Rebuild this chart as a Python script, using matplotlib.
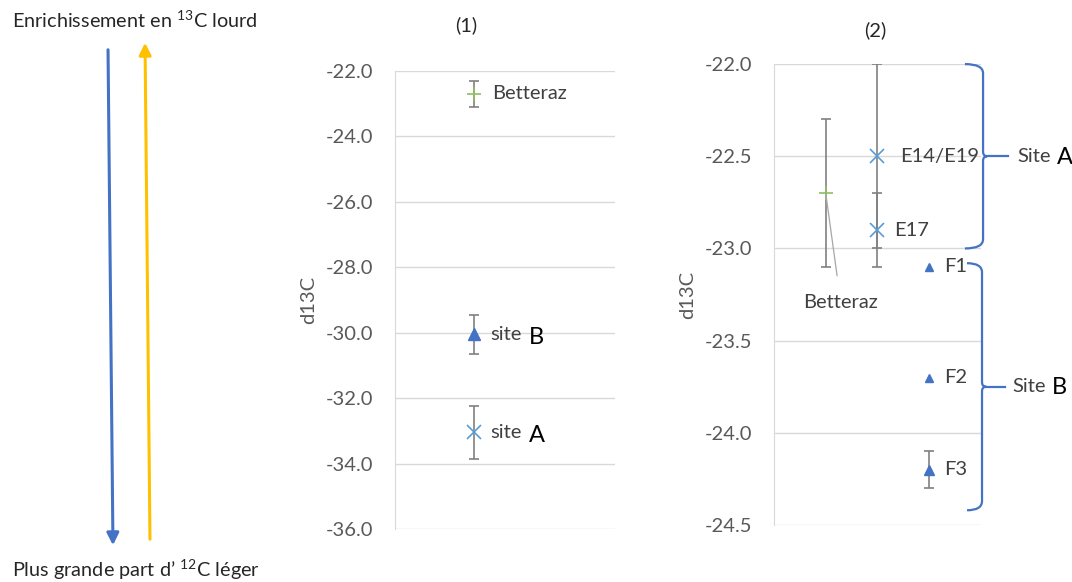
import matplotlib
matplotlib.use("Agg")
import matplotlib.pyplot as plt
from matplotlib.path import Path
from matplotlib.patches import PathPatch, FancyArrowPatch

plt.rcParams['font.family'] = ['Lato', 'DejaVu Sans']
plt.rcParams['mathtext.fontset'] = 'custom'
plt.rcParams['mathtext.rm'] = 'Lato'

# panel (1): mean d13C per group
groups1 = ['Betteraz', 'site B', 'site A']
x1 = [1, 1, 1]
d13c1 = [-22.7, -30.05, -33.05]
err1 = [0.4, 0.6, 0.8]

# panel (2): individual samples
samples2 = ['Betteraz', 'E14/E19', 'E17', 'F1', 'F2', 'F3']
x2 = [1, 2, 2, 3, 3, 3]
d13c2 = [-22.7, -22.5, -22.9, -23.1, -23.7, -24.2]
err2 = [0.4, 0.5, 0.2, 0.0, 0.0, 0.1]

ticks1 = [-36, -34, -32, -30, -28, -26, -24, -22]
ticks2 = [-24.5, -24.0, -23.5, -23.0, -22.5, -22.0]

GREY = '#595959'
LABEL = '#404040'
GRID = '#d9d9d9'
BAR = '#808080'
BLUE = '#4472c4'
LIGHTBLUE = '#5b9bd5'
GREEN = '#8fbf5f'
FS = 14.5
styles = {'Betteraz': ('+', GREEN, 10, 1.2),
          'site B': ('^', BLUE, 8, 1.0), 'site A': ('x', LIGHTBLUE, 10, 1.2),
          'E14/E19': ('x', LIGHTBLUE, 10, 1.2), 'E17': ('x', LIGHTBLUE, 10, 1.2),
          'F1': ('^', BLUE, 6, 1.0), 'F2': ('^', BLUE, 6, 1.0), 'F3': ('^', BLUE, 7, 1.0)}

fig = plt.figure(figsize=(10.72, 5.82), dpi=100)
ax1 = fig.add_axes([0.3685, 0.0911, 0.2052, 0.787])
ax2 = fig.add_axes([0.722, 0.0979, 0.1931, 0.792])


def style_axes(ax, ticks, fmt):
    ax.set_yticks(ticks)
    ax.set_yticklabels([fmt.format(t) for t in ticks], color=GREY, fontsize=FS)
    ax.set_xticks([])
    for s in ['top', 'right', 'bottom']:
        ax.spines[s].set_visible(False)
    ax.spines['left'].set_color(GRID)
    ax.tick_params(axis='y', length=0, pad=16)
    ax.grid(axis='y', color=GRID, linewidth=1)
    ax.set_axisbelow(True)
    ax.set_ylabel('d13C', color=GREY, fontsize=FS, labelpad=6)


def draw_points(ax, names, xs, ys, errs):
    for n, x, y, e in zip(names, xs, ys, errs):
        m, c, ms, mew = styles[n]
        if e > 0:
            ax.errorbar(x, y, yerr=e, fmt='none', ecolor=BAR, elinewidth=1.2,
                        capsize=3.4, capthick=1.2, zorder=2)
        ax.plot(x, y, marker=m, color=c, markersize=ms, markeredgewidth=mew,
                linestyle='none', zorder=3)


def two_part(ax, xy, word, letter, dx_word, dx_letter, dy_letter=-3):
    ax.annotate(word, xy, xytext=(dx_word, 0), textcoords='offset pixels',
                va='center', color=LABEL, fontsize=FS, annotation_clip=False)
    ax.annotate(letter, xy, xytext=(dx_letter, dy_letter), textcoords='offset pixels',
                va='center', color='black', fontsize=17, annotation_clip=False)


# panel (1)
ax1.set_ylim(-36, -22)
ax1.set_xlim(0, 2.8)
style_axes(ax1, ticks1, '{:.1f}')
draw_points(ax1, groups1, x1, d13c1, err1)
ax1.annotate('Betteraz', (x1[0], d13c1[0]), xytext=(19, 0), textcoords='offset pixels',
             va='center', color=LABEL, fontsize=FS)
for n, x, y in zip(groups1[1:], x1[1:], d13c1[1:]):
    word, letter = n.split()
    two_part(ax1, (x, y), word, letter, 17, 55)
fig.text(0.4347, 0.957, '(1)', ha='center', va='center', fontsize=FS, color='#262626')

# panel (2)
ax2.set_ylim(-24.5, -22.0)
ax2.set_xlim(0, 4)
style_axes(ax2, ticks2, '{:.1f}')
draw_points(ax2, samples2, x2, d13c2, err2)
offsets = {'E14/E19': 23, 'E17': 17, 'F1': 15, 'F2': 15, 'F3': 15}
for n, x, y in zip(samples2[1:], x2[1:], d13c2[1:]):
    ax2.annotate(n, (x, y), xytext=(offsets[n], 0), textcoords='offset pixels',
                 va='center', color=LABEL, fontsize=FS)
ax2.annotate('Betteraz', (x2[0], d13c2[0]), xytext=(15, -109), textcoords='offset pixels',
             va='center', ha='center', color=LABEL, fontsize=FS,
             arrowprops=dict(arrowstyle='-', color='#a6a6a6', lw=0.9,
                             shrinkA=11, shrinkB=0))
fig.text(0.8162, 0.948, '(2)', ha='center', va='center', fontsize=FS, color='#262626')


def brace(ax, y_top, y_bot, y_mid, x_left, x_right, x_tip, x_end):
    r = 0.05
    verts = [(x_left, y_top), (x_right, y_top), (x_right, y_top - r),
             (x_right, y_mid + r / 2), (x_right, y_mid), (x_tip, y_mid),
             (x_right, y_mid), (x_right, y_mid - r / 2),
             (x_right, y_bot + r), (x_right, y_bot), (x_left, y_bot)]
    codes = [Path.MOVETO, Path.CURVE3, Path.CURVE3,
             Path.LINETO, Path.CURVE3, Path.CURVE3,
             Path.CURVE3, Path.CURVE3,
             Path.LINETO, Path.CURVE3, Path.CURVE3]
    ax.add_patch(PathPatch(Path(verts, codes), fill=False, edgecolor=BLUE,
                           lw=1.6, clip_on=False))
    ax.plot([x_tip, x_end], [y_mid, y_mid], color=BLUE, lw=1.6, clip_on=False)


brace(ax2, -22.0, -23.0, -22.5, 3.69, 4.04, 4.12, 4.52)
brace(ax2, -23.08, -24.42, -23.75, 3.73, 4.02, 4.1, 4.46)
two_part(ax2, (4.52, -22.5), 'Site', 'A', 9, 49, -1)
two_part(ax2, (4.46, -23.75), 'Site', 'B', 8, 47, -1)

# direction arrows on the left
W, H = 1072, 582
fig.add_artist(FancyArrowPatch((108 / W, 1 - 47 / H), (113 / W, 1 - 548 / H),
                               transform=fig.transFigure, arrowstyle='-|>',
                               mutation_scale=18, color=BLUE, lw=2.2))
fig.add_artist(FancyArrowPatch((150 / W, 1 - 542 / H), (145 / W, 1 - 40 / H),
                               transform=fig.transFigure, arrowstyle='-|>',
                               mutation_scale=18, color='#ffc000', lw=2.2))
fig.text(12 / W, 1 - 20 / H, r'Enrichissement en $^{13}$C lourd', va='center',
         fontsize=14.3, color='#262626')
fig.text(12 / W, 1 - 570 / H, r'Plus grande part d’ $^{12}$C léger', va='center',
         fontsize=14.3, color='#262626')

fig.savefig('out.png', dpi=100)
